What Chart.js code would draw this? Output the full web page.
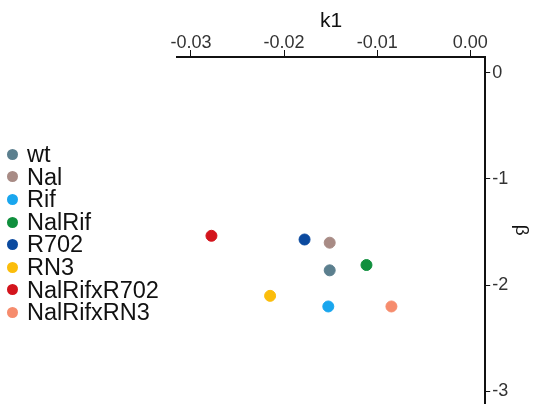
<!DOCTYPE html>
<html>
<head>
<meta charset="utf-8">
<script src="https://cdn.jsdelivr.net/npm/chart.js@4.4.1/dist/chart.umd.min.js"></script>
<style>
  html, body { margin: 0; padding: 0; background: #fff; }
  #wrap { position: relative; width: 550px; height: 416px; }
  #legend { position: absolute; left: 0; top: 143px; margin: 0; padding: 0; list-style: none;
            font-family: 'Liberation Sans', Arial, sans-serif; font-size: 23.5px; color: #111; }
  #legend li { position: relative; height: 22.6px; line-height: 22.6px; padding-left: 27px; white-space: nowrap; }
  #legend li span { position: absolute; left: 7px; top: 5.8px; width: 11px; height: 11px; border-radius: 50%; }
</style>
</head>
<body>
<div id="wrap"><canvas id="chart"></canvas><ul id="legend"></ul></div>
<script>
const strains = ["wt", "Nal", "Rif", "NalRif", "R702", "RN3", "NalRifxR702", "NalRifxRN3"];
const k1Values = [-0.0151, -0.0151, -0.01525, -0.01115, -0.0178, -0.0215, -0.0278, -0.00847];
const betaValues = [-1.86, -1.6, -2.2, -1.81, -1.57, -2.1, -1.535, -2.2];
const colors = ["#5b7f8e", "#a88b85", "#19a6ee", "#0f8f3d", "#0b4a9f", "#fbbd0b", "#d3141c", "#f68c6d"];
const xTicks = [-0.03, -0.02, -0.01, 0.00];
const yTicks = [0, -1, -2, -3];

const fontFamily = "'Liberation Sans', Arial, sans-serif";
Chart.defaults.font.family = fontFamily;
Chart.defaults.color = "#222";

const datasets = strains.map(function(name, i){
    return {
        label: name,
        data: [{ x: k1Values[i], y: betaValues[i] }],
        xAxisID: "x",
        yAxisID: "y",
        backgroundColor: colors[i],
        borderColor: colors[i],
        pointRadius: 5.5,
        pointHoverRadius: 5.5,
        pointStyle: "circle"
    };
});

// legend as html, same order as datasets
const legendEl = document.getElementById("legend");
strains.forEach(function(name, i){
    const li = document.createElement("li");
    const dot = document.createElement("span");
    dot.style.background = colors[i];
    li.appendChild(dot);
    li.appendChild(document.createTextNode(name));
    legendEl.appendChild(li);
});

new Chart(document.getElementById("chart"), {
    type: "scatter",
    data: { datasets: datasets },
    options: {
        responsive: true,
        maintainAspectRatio: false,
        animation: false,
        layout: { padding: { left: 177, right: 2, top: 0, bottom: 11 } },
        plugins: {
            tooltip: { enabled: false },
            legend: { display: false }
        },
        scales: {
            x: {
                type: "linear",
                position: "top",
                min: -0.0315,
                max: 0.0016,
                afterBuildTicks: function(axis){
                    axis.ticks = xTicks.map(function(v){ return { value: v }; });
                },
                afterFit: function(axis){ axis.height = 57; },
                ticks: {
                    font: { size: 18 },
                    color: "#333",
                    padding: -4,
                    callback: function(v){ return v.toFixed(2); }
                },
                grid: {
                    drawOnChartArea: false,
                    drawTicks: true,
                    tickLength: 7,
                    color: "#111",
                    tickWidth: 1
                },
                border: { display: true, color: "#111", width: 2 },
                title: {
                    display: true,
                    text: "k1",
                    font: { size: 21 },
                    color: "#111",
                    padding: { top: 9, bottom: 0 }
                }
            },
            y: {
                type: "linear",
                position: "right",
                min: -3.11,
                max: 0.147,
                afterBuildTicks: function(axis){
                    axis.ticks = yTicks.map(function(v){ return { value: v }; });
                },
                ticks: {
                    font: { size: 18 },
                    color: "#333",
                    padding: 2,
                    callback: function(v){ return v === 0 ? "0" : String(v); }
                },
                grid: {
                    drawOnChartArea: false,
                    drawTicks: true,
                    tickLength: 5,
                    color: "#111",
                    tickWidth: 1
                },
                border: { display: true, color: "#111", width: 2 },
                title: {
                    display: true,
                    text: "β",
                    font: { size: 19 },
                    color: "#111",
                    padding: { top: 15, bottom: 0 }
                }
            }
        }
    }
});
</script>
</body>
</html>
